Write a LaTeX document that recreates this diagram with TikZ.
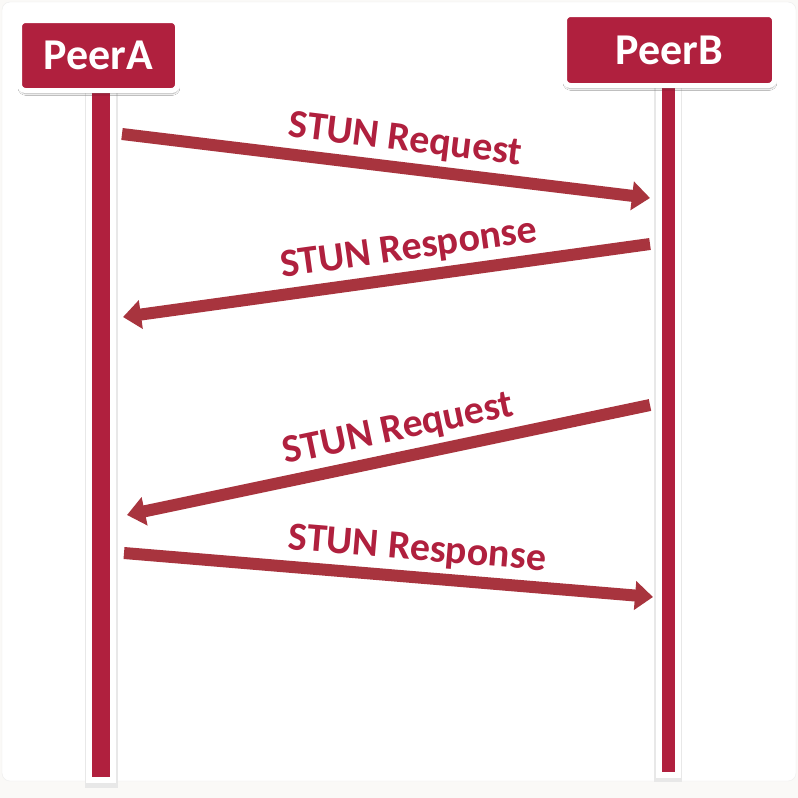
\documentclass[tikz,border=0pt]{standalone}
\usepackage{fontspec}
\setmainfont{Carlito}
\usepackage{tikz}
\usetikzlibrary{arrows.meta,positioning,shadows,shadows.blur,calc}

\definecolor{stunred}{RGB}{176,32,62}
\definecolor{msgred}{RGB}{168,52,62}
\definecolor{pagebg}{RGB}{250,249,247}

\tikzset{
  peer/.style={fill=stunred, draw=white, line width=5pt, rounded corners=6pt, text=white,
    font=\fontsize{44}{44}\selectfont\bfseries, inner sep=0pt,
    blur shadow={shadow blur steps=6, shadow xshift=0.5pt, shadow yshift=-3pt, shadow opacity=35, shadow blur extra rounding=2pt}},
  lifeline/.style={draw=white, double=stunred, line width=6pt, line cap=rect},
  msg/.style={draw=msgred, line width=12pt, -{Triangle[length=18pt,width=28pt]}},
  msglabel/.style={text=stunred, font=\fontsize{40}{40}\selectfont\bfseries, sloped, above=5pt, inner sep=0pt}
}

\begin{document}
\begin{tikzpicture}[x=1pt, y=-1pt]
\useasboundingbox (0,0) rectangle (798,798);
% page
\fill[pagebg] (0,0) rectangle (798,798);
\filldraw[fill=white, draw=black!7, rounded corners=8pt] (2,2) rectangle (796,781);

% peers
\coordinate (PeerAtop) at (101,90);  \coordinate (PeerAend) at (101,768);
\coordinate (PeerBtop) at (668,85);  \coordinate (PeerBend) at (668,765);
\draw[black!9, line width=33pt, line cap=rect] ($(PeerAtop)+(0,3)$) -- ($(PeerAend)+(0,3)$);
\draw[black!9, line width=28pt, line cap=rect] ($(PeerBtop)+(0,3)$) -- ($(PeerBend)+(0,3)$);
\draw[lifeline, double distance=18pt] (PeerAtop) -- (PeerAend);
\draw[lifeline, double distance=13pt] (PeerBtop) -- (PeerBend);
\node[peer, minimum width=158pt, minimum height=70pt] (PeerA) at (98.5,55.5) {PeerA};
\node[peer, minimum width=210pt, minimum height=71pt] (PeerB) at (669.5,50) {PeerB};

% messages
\coordinate (m1s) at (122,134); \coordinate (m1e) at (650,198);
\coordinate (m2s) at (650,244); \coordinate (m2e) at (123,317);
\coordinate (m3s) at (650,405); \coordinate (m3e) at (127,515);
\coordinate (m4s) at (124,553); \coordinate (m4e) at (653,597);
\foreach \s/\e/\p/\t [count=\i] in {m1s/m1e/0.53/STUN Request, m2s/m2e/0.45/STUN Response,
                                   m3s/m3e/0.47/STUN Request, m4s/m4e/0.55/STUN Response}
  \draw[msg] (\s) -- node[msglabel, pos=\p] (label\i) {\t} (\e);
\end{tikzpicture}
\end{document}
